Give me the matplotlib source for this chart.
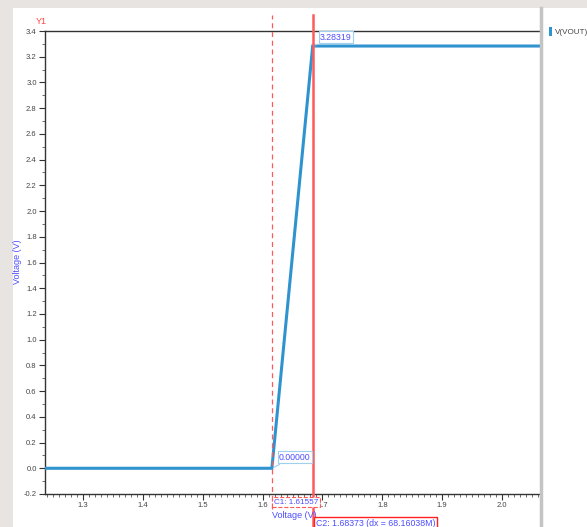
import matplotlib
matplotlib.use('Agg')
from matplotlib import pyplot as plt
from matplotlib.patches import Rectangle
from matplotlib.lines import Line2D
import numpy as np

plt.rcParams['font.family'] = ['Liberation Sans', 'DejaVu Sans']

# waveform V(VOUT)
sweep = [1.2367, 1.61557, 1.68373, 2.0633]
vout = [0.0, 0.0, 3.28319, 3.28319]
c1, c2 = 1.61557, 1.68373
c1_label = 'C1: 1.61557'
c2_label = 'C2: 1.68373 (dx = 68.16038M)'
x_ticks = [1.3, 1.4, 1.5, 1.6, 1.7, 1.8, 1.9, 2.0]
y_ticks = [-0.2, 0.0, 0.2, 0.4, 0.6, 0.8, 1.0, 1.2, 1.4, 1.6, 1.8, 2.0, 2.2, 2.4, 2.6, 2.8, 3.0, 3.2, 3.4]

W, H = 587, 527
fig = plt.figure(figsize=(W / 100, H / 100), dpi=100, facecolor='#e8e4e1')

def fx(px):
    return px / W

def fy(py):
    return 1 - py / H

# white panel
fig.add_artist(Rectangle((fx(13), 0), 1 - fx(13), fy(8), transform=fig.transFigure,
                         facecolor='white', edgecolor='none', zorder=0))

ax = fig.add_axes([fx(45), fy(494), fx(540) - fx(45), fy(31) - fy(494)])
ax.set_facecolor('white')
ax.set_xlim(1.2367, 2.0633)
ax.set_ylim(-0.2, 3.4)

ax.plot(sweep, vout, color='#2f93cf', lw=2.2, zorder=3, solid_joinstyle='miter')

ax.set_xticks(x_ticks)
ax.set_xticklabels(['%.1f' % v for v in x_ticks])
ax.set_xticks(np.arange(1.24, 2.065, 0.01), minor=True)
ax.set_yticks(y_ticks)
ax.set_yticklabels(['%.1f' % v for v in y_ticks])
ax.set_yticks(np.arange(-0.1, 3.4, 0.2), minor=True)
ax.tick_params(which='major', length=4, width=0.8, color='#333333', labelsize=5.5,
               labelcolor='#444444', pad=2, direction='out')
ax.tick_params(which='minor', length=2.5, width=0.6, color='#555555', direction='out')

for side in ['left', 'bottom', 'top']:
    ax.spines[side].set_color('#333333')
    ax.spines[side].set_linewidth(1.0)
ax.spines['right'].set_visible(False)

# grey right border bar
fig.add_artist(Line2D([fx(541), fx(541)], [0, fy(8)], transform=fig.transFigure,
                      color='#c4c4c4', lw=2.5))

# cursors
ax.axvline(c1, ymin=-0.033, ymax=1.035, color='#ff5a5a', lw=0.9, ls=(0, (4, 3)),
           clip_on=False, zorder=4)
ax.axvline(c2, ymin=-0.075, ymax=1.035, color='#ff5a5a', lw=1.8, clip_on=False, zorder=4)

blue_txt = '#4d4dff'
ax.annotate('3.28319', xy=(c2, 3.28319), xytext=(fx(320), fy(37)), textcoords='figure fraction',
            fontsize=6.3, color=blue_txt, va='center', ha='left',
            bbox=dict(boxstyle='square,pad=0.15', fc='white', ec='#9fd0ee', lw=0.8),
            arrowprops=dict(arrowstyle='-', color='#9fd0ee', lw=0.8), zorder=5)
ax.annotate('0.00000', xy=(c1, 0.0), xytext=(fx(279), fy(457)), textcoords='figure fraction',
            fontsize=6.3, color=blue_txt, va='center', ha='left',
            bbox=dict(boxstyle='square,pad=0.15', fc='white', ec='#9fd0ee', lw=0.8),
            arrowprops=dict(arrowstyle='-', color='#9fd0ee', lw=0.8), zorder=5)

fig.text(fx(274), fy(502), c1_label, fontsize=5.9, color=blue_txt, va='center', ha='left',
         bbox=dict(boxstyle='square,pad=0.2', fc='white', ec='#ff5a5a', lw=0.8, ls='--'))
fig.text(fx(272), fy(516), 'Voltage (V)', fontsize=6.5, color=blue_txt, va='center', ha='left')
fig.text(fx(316), fy(523), c2_label, fontsize=6.3, color=blue_txt, va='center', ha='left',
         bbox=dict(boxstyle='square,pad=0.2', fc='white', ec='#ff2020', lw=1.0))

fig.text(fx(18), fy(262), 'Voltage (V)', fontsize=6.5, color=blue_txt, rotation=90,
         va='center', ha='center')
fig.text(fx(41), fy(21), 'Y1', fontsize=6.5, color='#ff4444', va='center', ha='center')

# legend
fig.add_artist(Rectangle((fx(549), fy(36)), fx(3), fy(27) - fy(36), transform=fig.transFigure,
                         facecolor='#2f93cf', edgecolor='none'))
fig.text(fx(555), fy(32), 'V(VOUT)', fontsize=5.8, color='#444444', va='center', ha='left')

fig.savefig('out.png', dpi=100, facecolor=fig.get_facecolor())
